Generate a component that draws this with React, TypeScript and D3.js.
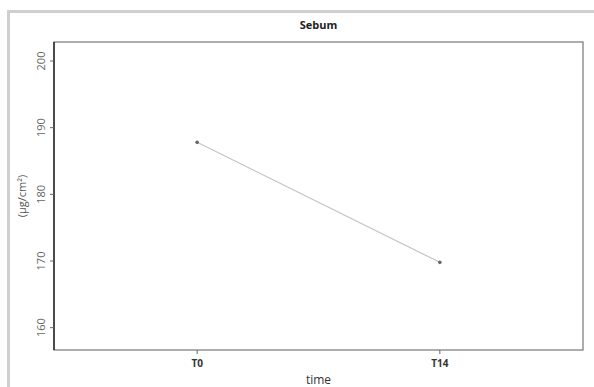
import React, { useEffect, useRef } from 'react';
import * as d3 from 'd3';

const times = ['T0', 'T14'];
const sebum = [187.8, 169.8];
const yTicks = [160, 170, 180, 190, 200];

const W = 594;
const H = 387;
const margin = { top: 42, right: 11, bottom: 37, left: 54 };

const App = () => {
  const ref = useRef<SVGSVGElement>(null);

  useEffect(() => {
    const svg = d3.select(ref.current);
    svg.selectAll('*').remove();
    const font = '"Open Sans", "DejaVu Sans", sans-serif';

    const x0 = margin.left, x1 = W - margin.right;
    const y0 = margin.top, y1 = H - margin.bottom;

    const x = d3.scalePoint<string>().domain(times).range([x0, x1]).padding(0.59);
    const y = d3.scaleLinear().domain([156.65, 202.85]).range([y1, y0]);

    svg.append('rect').attr('width', W).attr('height', H).attr('fill', '#fff');

    // outer frame
    svg.append('rect')
      .attr('x', 8.5).attr('y', 11.5)
      .attr('width', W + 10).attr('height', H + 10)
      .attr('fill', 'none').attr('stroke', '#cfcfcf').attr('stroke-width', 3);

    // plot box
    svg.append('rect')
      .attr('x', x0).attr('y', y0)
      .attr('width', x1 - x0).attr('height', y1 - y0)
      .attr('fill', 'none').attr('stroke', '#777').attr('stroke-width', 1.2);
    svg.append('line')
      .attr('x1', x0).attr('x2', x0).attr('y1', y0).attr('y2', y1)
      .attr('stroke', '#222').attr('stroke-width', 1.4);

    // y axis
    const yAxis = svg.append('g');
    yTicks.forEach(t => {
      yAxis.append('line')
        .attr('x1', x0 - 4).attr('x2', x0).attr('y1', y(t)).attr('y2', y(t))
        .attr('stroke', '#666');
      yAxis.append('text')
        .attr('transform', `translate(${x0 - 9},${y(t)}) rotate(-90)`)
        .attr('text-anchor', 'middle')
        .attr('font-family', font).attr('font-size', 11)
        .attr('fill', '#666')
        .text(String(t));
    });

    // x axis
    const xAxis = svg.append('g');
    times.forEach(t => {
      xAxis.append('line')
        .attr('x1', x(t)!).attr('x2', x(t)!).attr('y1', y1).attr('y2', y1 + 4)
        .attr('stroke', '#666');
      xAxis.append('text')
        .attr('x', x(t)!).attr('y', y1 + 17)
        .attr('text-anchor', 'middle')
        .attr('font-family', font).attr('font-size', 10).attr('font-weight', 'bold')
        .attr('fill', '#333')
        .text(t);
    });

    svg.append('text')
      .attr('x', (x0 + x1) / 2).attr('y', H - 3)
      .attr('text-anchor', 'middle')
      .attr('font-family', font).attr('font-size', 12)
      .attr('fill', '#333')
      .text('time');

    svg.append('text')
      .attr('transform', `translate(26,${(y0 + y1) / 2}) rotate(-90)`)
      .attr('text-anchor', 'middle')
      .attr('font-family', font).attr('font-size', 11)
      .attr('fill', '#555')
      .text('(µg/cm²)');

    svg.append('text')
      .attr('x', (x0 + x1) / 2).attr('y', 29)
      .attr('text-anchor', 'middle')
      .attr('font-family', font).attr('font-size', 11).attr('font-weight', 'bold')
      .attr('fill', '#222')
      .text('Sebum');

    const line = d3.line<number>()
      .x((_, i) => x(times[i])!)
      .y(d => y(d));
    svg.append('path')
      .datum(sebum)
      .attr('d', line)
      .attr('fill', 'none')
      .attr('stroke', '#c4c4c4')
      .attr('stroke-width', 1.2);

    svg.selectAll('circle.pt')
      .data(sebum)
      .enter().append('circle')
      .attr('class', 'pt')
      .attr('cx', (_, i) => x(times[i])!)
      .attr('cy', d => y(d))
      .attr('r', 1.8)
      .attr('fill', '#666');
  }, []);

  return (
    <svg ref={ref} width={W} height={H} style={{ position: 'absolute', left: 0, top: 0 }} />
  );
};

export default App;
